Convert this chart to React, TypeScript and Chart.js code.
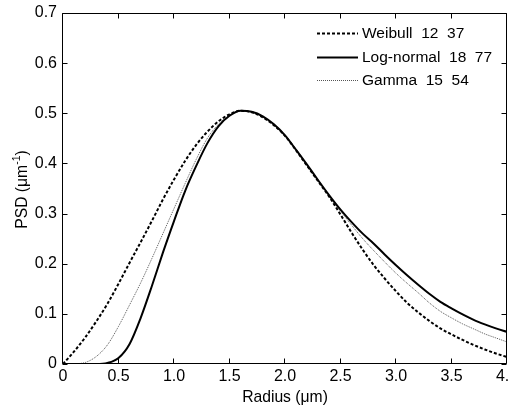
import React, { useEffect, useRef } from "react";
import { Chart, registerables } from "chart.js";

Chart.register(...registerables);

// Radius (µm)
const radius = [
  0, 0.1, 0.2, 0.3, 0.4, 0.5, 0.6, 0.7, 0.8, 0.9,
  1.0, 1.1, 1.2, 1.3, 1.4, 1.5, 1.6, 1.7, 1.8, 1.9,
  2.0, 2.1, 2.2, 2.3, 2.4, 2.5, 2.6, 2.7, 2.8, 2.9,
  3.0, 3.1, 3.2, 3.3, 3.4, 3.5, 3.6, 3.7, 3.8, 3.9, 4.0,
];

const weibull = [
  0, 0.025, 0.053, 0.085, 0.12, 0.16, 0.202, 0.243, 0.285, 0.328,
  0.368, 0.405, 0.437, 0.463, 0.484, 0.498, 0.505, 0.502, 0.492, 0.476,
  0.455, 0.426, 0.395, 0.364, 0.333, 0.298, 0.262, 0.228, 0.197, 0.17,
  0.145, 0.122, 0.103, 0.086, 0.071, 0.059, 0.048, 0.038, 0.029, 0.021, 0.014,
];

const logNormal = [
  0, 0, 0, 0, 0.002, 0.012, 0.04, 0.092, 0.155, 0.222,
  0.285, 0.345, 0.395, 0.44, 0.474, 0.495, 0.505, 0.503, 0.494, 0.478,
  0.456, 0.427, 0.397, 0.366, 0.336, 0.308, 0.283, 0.26, 0.24, 0.218,
  0.197, 0.177, 0.158, 0.14, 0.124, 0.111, 0.099, 0.088, 0.079, 0.071, 0.064,
];

const gamma = [
  0, 0.0005, 0.003, 0.015, 0.038, 0.075, 0.118, 0.162, 0.21, 0.26,
  0.31, 0.36, 0.408, 0.45, 0.478, 0.496, 0.505, 0.502, 0.493, 0.477,
  0.455, 0.426, 0.396, 0.365, 0.334, 0.305, 0.277, 0.25, 0.226, 0.203,
  0.181, 0.161, 0.142, 0.122, 0.105, 0.092, 0.08, 0.07, 0.06, 0.052, 0.044,
];

const seriesLabels = ["Weibull  12  37", "Log-normal  18  77", "Gamma  15  54"];
const xTitle = "Radius (\u03bcm)";
const yTitleMain = "PSD (\u03bcm";
const yTitleSup = "-1";
const yTitleEnd = ")";

const FONT = '"Liberation Sans", Arial, Helvetica, sans-serif';

const framePlugin = {
  id: "frame",
  afterDraw(chart: any) {
    const { ctx, chartArea: a, scales } = chart;
    const L = Math.round(a.left) - 0.5;
    const R = Math.round(a.right) - 0.5;
    const T = Math.round(a.top) + 0.5;
    const B = Math.round(a.bottom) - 0.5;
    ctx.save();
    ctx.strokeStyle = "#000";
    ctx.lineWidth = 1;
    ctx.beginPath();
    ctx.rect(L, T, R - L, B - T);
    ctx.stroke();
    const tl = 5;
    ctx.beginPath();
    scales.x.ticks.forEach((t: any) => {
      const px = Math.round(scales.x.getPixelForValue(t.value)) - 0.5;
      ctx.moveTo(px, B);
      ctx.lineTo(px, B - tl);
      ctx.moveTo(px, T);
      ctx.lineTo(px, T + tl);
    });
    scales.y.ticks.forEach((t: any) => {
      const py = Math.round(scales.y.getPixelForValue(t.value)) + 0.5;
      ctx.moveTo(L, py);
      ctx.lineTo(L + tl, py);
      ctx.moveTo(R, py);
      ctx.lineTo(R - tl, py);
    });
    ctx.stroke();

    // legend
    const rows = [33, 57, 80];
    chart.data.datasets.forEach((ds: any, i: number) => {
      const y = rows[i] + 0.5;
      ctx.save();
      ctx.strokeStyle = ds.borderColor;
      ctx.lineWidth = ds.borderWidth;
      ctx.setLineDash(ds.borderDash || []);
      ctx.beginPath();
      ctx.moveTo(317, y);
      ctx.lineTo(358, y);
      ctx.stroke();
      ctx.restore();
      ctx.fillStyle = "#000";
      ctx.font = `15.5px ${FONT}`;
      ctx.textAlign = "left";
      ctx.textBaseline = "middle";
      ctx.fillText(ds.label, 362, rows[i] + 1);
    });

    // x title
    ctx.fillStyle = "#000";
    ctx.font = `15.7px ${FONT}`;
    ctx.textAlign = "center";
    ctx.textBaseline = "middle";
    ctx.fillText(xTitle, (a.left + a.right) / 2, 398);

    // y title with superscript
    ctx.save();
    ctx.translate(22, (a.top + a.bottom) / 2 + 1);
    ctx.rotate(-Math.PI / 2);
    ctx.font = `15.7px ${FONT}`;
    const w1 = ctx.measureText(yTitleMain).width;
    const w3 = ctx.measureText(yTitleEnd).width;
    ctx.font = `10.5px ${FONT}`;
    const w2 = ctx.measureText(yTitleSup).width;
    const total = w1 + w2 + w3;
    const x0 = -total / 2;
    ctx.textAlign = "left";
    ctx.textBaseline = "alphabetic";
    ctx.font = `15.7px ${FONT}`;
    ctx.fillText(yTitleMain, x0, 5);
    ctx.font = `10.5px ${FONT}`;
    ctx.fillText(yTitleSup, x0 + w1, -2);
    ctx.font = `15.7px ${FONT}`;
    ctx.fillText(yTitleEnd, x0 + w1 + w2, 5);
    ctx.restore();

    ctx.restore();
  },
};

export default function App() {
  const ref = useRef<HTMLCanvasElement | null>(null);
  useEffect(() => {
    if (!ref.current) return;
    const mk = (data: number[]) => radius.map((r, i) => ({ x: r, y: data[i] }));
    const chart = new Chart(ref.current, {
      type: "line",
      data: {
        datasets: [
          {
            label: seriesLabels[0],
            data: mk(weibull),
            borderColor: "#000",
            borderWidth: 2,
            borderDash: [3, 2],
            pointRadius: 0,
            cubicInterpolationMode: "monotone",
            fill: false,
          },
          {
            label: seriesLabels[1],
            data: mk(logNormal),
            borderColor: "#000",
            borderWidth: 2,
            pointRadius: 0,
            cubicInterpolationMode: "monotone",
            fill: false,
          },
          {
            label: seriesLabels[2],
            data: mk(gamma),
            borderColor: "#555",
            borderWidth: 1,
            borderDash: [1, 1],
            pointRadius: 0,
            cubicInterpolationMode: "monotone",
            fill: false,
          },
        ],
      },
      options: {
        responsive: false,
        animation: false,
        devicePixelRatio: 1,
        layout: { padding: { top: 13, right: 2, left: 0, bottom: 0 } },
        plugins: {
          legend: { display: false },
          tooltip: { enabled: false },
        },
        scales: {
          x: {
            type: "linear",
            min: 0,
            max: 4,
            ticks: {
              stepSize: 0.5,
              color: "#000",
              font: { family: FONT, size: 16 },
              padding: 3,
              maxRotation: 0,
              autoSkip: false,
            },
            grid: { display: false, drawTicks: false },
            border: { display: false },
            afterFit(scale: any) {
              scale.height = 45;
              scale.paddingLeft = 0;
              scale.paddingRight = 0;
            },
          },
          y: {
            type: "linear",
            min: 0,
            max: 0.7,
            ticks: {
              stepSize: 0.1,
              color: "#000",
              font: { family: FONT, size: 16 },
              padding: 6,
              autoSkip: false,
            },
            grid: { display: false, drawTicks: false },
            border: { display: false },
            afterFit(scale: any) {
              scale.width = 63;
              scale.paddingTop = 0;
              scale.paddingBottom = 0;
            },
          },
        },
      } as any,
      plugins: [framePlugin],
    });
    return () => chart.destroy();
  }, []);
  return (
    <div style={{ position: "fixed", left: 0, top: 0, width: 509, height: 409, background: "#fff" }}>
      <canvas ref={ref} width={509} height={409} style={{ display: "block" }} />
    </div>
  );
}
